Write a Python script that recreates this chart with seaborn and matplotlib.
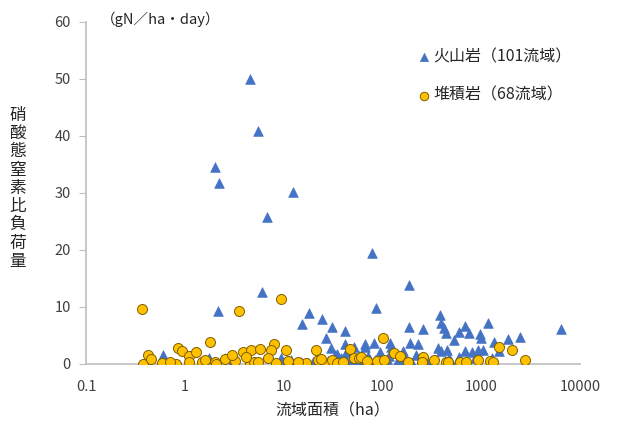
import seaborn as sns
import pandas as pd
import matplotlib.pyplot as plt

# volcanic basins (area ha, load gN/ha/day)
volc_area = [4.6, 5.5, 2.0, 2.2, 12.5, 6.8, 79, 186, 6.0, 87, 2.15, 6500,
             18, 15.4, 24.5, 31, 42, 27, 380, 186, 260, 390, 420, 690, 1180, 600,
             980, 83, 120, 190, 230, 440, 530, 760, 67, 1000, 2500, 1860, 1340, 52,
             30, 42,
             0.6, 1.74, 2.55, 5.5, 9.4, 10.3, 15, 17.7, 35, 43, 44, 38, 44, 58, 66,
             71, 94, 123, 117, 162, 168, 220, 250, 365, 395, 455, 685, 800, 935,
             1050, 865, 600, 470,
             20, 22, 25, 28, 32, 36, 40, 48, 55, 62, 75, 85, 100, 110, 140, 155,
             200, 280, 320, 500, 700, 1300, 1500, 12, 3.0, 33, 50, 90]
volc_load = [50.0, 40.8, 34.5, 31.7, 30.2, 25.8, 19.5, 13.9, 12.6, 9.8, 9.35, 6.1,
             9.0, 7.0, 7.9, 6.5, 5.8, 4.6, 8.6, 6.5, 6.1, 7.2, 6.3, 6.7, 7.2, 5.6,
             5.3, 3.7, 3.7, 3.7, 3.5, 5.4, 4.2, 5.4, 3.5, 4.6, 4.7, 4.4, 3.9, 3.0,
             2.8, 3.5,
             1.6, 1.0, 1.1, 0.1, 1.0, 0.1, 0.4, 0.2, 1.7, 1.9, 0.4, 1.0, 2.2, 1.3, 3.0,
             1.4, 2.0, 3.0, 1.4, 2.2, 1.0, 1.6, 1.2, 2.8, 2.2, 2.5, 2.2, 2.0, 2.5,
             2.5, 1.0, 1.2, 1.0,
             0.3, 0.8, 0.2, 0.5, 0.1, 0.3, 0.6, 0.2, 0.5, 0.2, 0.3, 0.6, 0.2, 0.8, 0.3, 0.6,
             0.2, 0.5, 0.3, 0.4, 0.3, 1.0, 2.2, 0.6, 0.2, 1.5, 1.2, 1.0]

# sedimentary basins
sed_area = [0.37, 3.5, 9.3, 1.8, 0.42, 0.38, 0.59, 0.82, 0.85, 0.93, 1.1, 1.1,
            1.3, 1.5, 2.0, 2.06, 2.55, 3.9, 4.7, 4.6, 5.7, 7.9, 7.5, 10.6, 5.06,
            5.5, 6.9, 8.4, 11, 16.8, 21.5, 22.4, 26.3, 31, 34.6, 47.5, 51, 58,
            102, 88, 104, 130, 150, 255, 250, 335, 440, 465, 605, 935, 1220, 1530,
            2040, 1320, 2790, 61, 0.45, 0.7, 1.6, 3.2, 4.2, 14, 40, 70, 180, 700,
            3.0, 24]
sed_load = [9.6, 9.35, 11.3, 3.8, 1.6, 0.0, 0.2, 0.05, 2.8, 2.3, 1.3, 0.3,
            2.0, 0.35, 0.4, 0.0, 0.9, 2.0, 2.5, 0.2, 2.6, 3.5, 2.5, 2.5, 0.35,
            0.35, 1.0, 0.2, 0.5, 0.2, 2.5, 0.6, 0.2, 0.6, 0.2, 2.6, 1.0, 1.0,
            4.6, 0.5, 0.7, 1.9, 1.4, 1.2, 0.3, 0.6, 0.4, 0.35, 0.4, 0.65, 0.45, 3.0,
            2.5, 0.4, 0.6, 1.2, 0.8, 0.3, 0.6, 0.5, 1.2, 0.4, 0.3, 0.5, 0.4, 0.3,
            1.5, 0.9]

volc = pd.DataFrame({"area": volc_area, "load": volc_load})
sed = pd.DataFrame({"area": sed_area, "load": sed_load})

sns.set_style("white")
plt.rcParams['font.family'] = ['Noto Sans CJK JP', 'DejaVu Sans']

fig = plt.figure(figsize=(6.38, 4.28), dpi=100)
ax = fig.add_axes([0.135, 0.15, 0.774, 0.799])

sns.scatterplot(data=volc, x="area", y="load", marker="^", s=48,
                color="#4472C4", edgecolor="#4472C4", linewidth=0.5, ax=ax,
                label="火山岩（101流域）", zorder=3)
sns.scatterplot(data=sed, x="area", y="load", marker="o", s=52,
                color="#FFC000", edgecolor="#7F6000", linewidth=0.7, ax=ax,
                label="堆積岩（68流域）", zorder=4)

ax.set_xscale("log")
ax.set_xlim(0.1, 10000)
ax.set_ylim(0, 60)
ax.set_yticks(range(0, 61, 10))
ax.set_xticks([0.1, 1, 10, 100, 1000, 10000])
ax.set_xticklabels(["0.1", "1", "10", "100", "1000", "10000"])
ax.minorticks_off()

for side in ["top", "right"]:
    ax.spines[side].set_visible(False)
for side in ["left", "bottom"]:
    ax.spines[side].set_color("#BFBFBF")
    ax.spines[side].set_linewidth(1.2)
ax.tick_params(axis="y", length=5, color="#BFBFBF", labelsize=10.5,
               labelcolor="#404040", pad=6, left=True)
ax.tick_params(axis="x", length=0, labelsize=10.5, labelcolor="#404040", pad=12)

ax.set_xlabel("流域面積（ha）", fontsize=11.5, color="#262626", labelpad=6)
ax.set_ylabel("")
fig.text(0.028, 0.56, "\n".join("硝酸態窒素比負荷量"), fontsize=12,
         color="#262626", ha="center", va="center", linespacing=1.1)
fig.text(0.158, 0.955, "（gN／ha・day）", fontsize=10.5, color="#262626",
         ha="left", va="center")

leg = ax.legend(loc="upper left", bbox_to_anchor=(0.635, 0.965), frameon=False,
                fontsize=11.5, handletextpad=0.0, labelspacing=1.35,
                markerscale=0.85, handlelength=1.2)
for t in leg.get_texts():
    t.set_color("#262626")

fig.savefig("out.png", dpi=100)
